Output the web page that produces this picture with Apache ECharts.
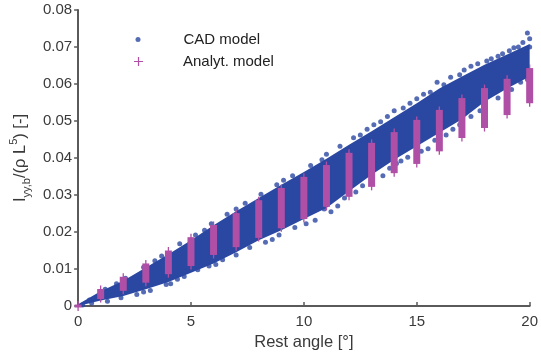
<!DOCTYPE html>
<html>
<head>
<meta charset="UTF-8">
<script src="https://cdn.jsdelivr.net/npm/echarts@6/dist/echarts.min.js"></script>
<style>
html,body{margin:0;padding:0;background:#fff;}
#main{width:541px;height:357px;}
</style>
</head>
<body>
<div id="main"></div>
<script>
// rest angles [deg]
var angles = [0,1,2,3,4,5,6,7,8,9,10,11,12,13,14,15,16,17,18,19,20];

// CAD model: dense cloud, read as upper / lower edge of the band
var bandUpper = [0.0005,0.0040,0.0068,0.0104,0.0140,0.0178,0.0218,0.0256,0.0292,0.0328,0.0362,
                 0.0398,0.0436,0.0472,0.0510,0.0548,0.0588,0.0620,0.0652,0.0680,0.0708];
var bandLower = [0.0000,0.0015,0.0027,0.0045,0.0065,0.0090,0.0115,0.0145,0.0178,0.0205,0.0235,
                 0.0265,0.0310,0.0355,0.0395,0.0432,0.0468,0.0505,0.0552,0.0588,0.0620];
// loose dots along the edges of the cloud
var cadDots = [
  [0.2,0.0003],[0.6,0.0008],[1.3,0.0013],[1.9,0.0022],[2.6,0.0031],[3.2,0.0042],[3.9,0.0058],
  [4.4,0.0072],[4.7,0.0080],[5.3,0.0098],[5.8,0.0108],[6.4,0.0125],[7.0,0.0138],[7.6,0.0158],
  [8.3,0.0172],[8.9,0.0192],[9.6,0.0212],[10.1,0.0222],[10.9,0.0262],[11.2,0.0255],[11.8,0.0292],
  [12.3,0.0308],[13.0,0.0345],[13.5,0.0352],[14.1,0.0385],[14.6,0.0402],[15.2,0.0418],[15.8,0.0448],
  [16.3,0.0462],[16.9,0.0490],[17.4,0.0512],[18.0,0.0538],[18.6,0.0562],[19.2,0.0585],[19.6,0.0605],
  [2.9,0.0038],[4.1,0.0060],[6.1,0.0112],[8.6,0.0180],[10.5,0.0232],[11.5,0.0270],[12.6,0.0325],
  [13.8,0.0372],[15.5,0.0425],[17.8,0.0528],[19.9,0.0612],[16.6,0.0478],[14.3,0.0392],
  [0.5,0.0016],[1.2,0.0045],[2.1,0.0075],[2.9,0.0105],[3.7,0.0135],[4.5,0.0168],[5.2,0.0192],
  [5.9,0.0222],[6.6,0.0248],[7.4,0.0278],[8.1,0.0302],[8.8,0.0328],[9.5,0.0352],[10.3,0.0380],
  [11.0,0.0410],[11.6,0.0432],[12.2,0.0455],[12.8,0.0478],[13.4,0.0498],[14.0,0.0528],[14.7,0.0548],
  [15.3,0.0572],[15.9,0.0605],[16.5,0.0618],[17.1,0.0638],[17.7,0.0655],[18.3,0.0668],[18.8,0.0682],
  [19.3,0.0698],[19.7,0.0712],[19.9,0.0738],[20.0,0.0722],
  [1.7,0.0060],[3.4,0.0122],[5.6,0.0205],[7.0,0.0262],[9.1,0.0340],[10.8,0.0395],[12.5,0.0462],
  [13.1,0.0490],[14.4,0.0535],[15.6,0.0578],[16.2,0.0598],[16.9,0.0625],[17.4,0.0648],[18.1,0.0662],
  [18.6,0.0675],[19.1,0.0690],[19.5,0.0700],[20.0,0.0700],[15.0,0.0560],[13.7,0.0512]
];

// Analyt. model: range of the + markers at each angle
var analytLo = [0.0000,0.0019,0.0041,0.0063,0.0086,0.0108,0.0138,0.0159,0.0184,0.0210,0.0235,
                0.0268,0.0295,0.0322,0.0359,0.0384,0.0418,0.0454,0.0481,0.0516,0.0548];
var analytHi = [0.0004,0.0046,0.0079,0.0115,0.0150,0.0186,0.0219,0.0251,0.0286,0.0319,0.0349,
                0.0381,0.0414,0.0441,0.0470,0.0503,0.0530,0.0562,0.0589,0.0614,0.0643];

var blue = '#2a47a2';
var magenta = '#b04fa6';
var axisCol = '#5a5a5a';
var txtCol = '#3a3a3a';

var chart = echarts.init(document.getElementById('main'));

var barData = angles.map(function (a, i) { return [a, analytLo[i], analytHi[i]]; });

chart.setOption({
  animation: false,
  grid: { left: 74, right: 8, top: 10, bottom: 51 },
  legend: [
    {
      left: 135.5, top: 32, padding: 0, itemWidth: 5, itemHeight: 5,
      textStyle: { fontFamily: 'Liberation Sans, Arial', fontSize: 15, color: '#222', padding: [0, 0, 0, 38] },
      data: [{ name: 'CAD model', icon: 'circle' }]
    },
    {
      left: 131.5, top: 54, padding: 0, itemWidth: 9, itemHeight: 9,
      textStyle: { fontFamily: 'Liberation Sans, Arial', fontSize: 15, color: '#222', padding: [0, 0, 0, 35] },
      data: [{ name: 'Analyt. model', icon: 'path://M5,0L5,10M0,5L10,5',
               itemStyle: { color: 'none', borderColor: magenta, borderWidth: 1.2 } }]
    }
  ],
  xAxis: {
    type: 'value', min: 0, max: 20, interval: 5,
    name: 'Rest angle [°]', nameLocation: 'middle', nameGap: 27,
    nameTextStyle: { fontFamily: 'Liberation Sans, Arial', fontSize: 16.5, color: txtCol },
    axisLine: { lineStyle: { color: axisCol, width: 2 } },
    axisTick: { inside: true, length: 4, lineStyle: { color: axisCol, width: 1.5 } },
    axisLabel: { fontFamily: 'Liberation Sans, Arial', fontSize: 15, color: txtCol, margin: 8 },
    splitLine: { show: false }
  },
  yAxis: {
    type: 'value', min: 0, max: 0.08, interval: 0.01,
    name: '{m|I}{s|yy,b}{m|/(ρ L}{p|5}{m|) [-]}', nameLocation: 'middle', nameGap: 42, nameRotate: 90,
    nameTextStyle: {
      fontFamily: 'Liberation Sans, Arial', color: txtCol,
      rich: {
        m: { fontSize: 16.5, lineHeight: 24, color: txtCol, fontFamily: 'Liberation Sans, Arial' },
        s: { fontSize: 11, lineHeight: 24, verticalAlign: 'bottom', color: txtCol, fontFamily: 'Liberation Sans, Arial' },
        p: { fontSize: 11, lineHeight: 24, verticalAlign: 'top', color: txtCol, fontFamily: 'Liberation Sans, Arial' }
      }
    },
    axisLine: { show: true, lineStyle: { color: axisCol, width: 2 } },
    axisTick: { show: true, length: 4, lineStyle: { color: axisCol, width: 1.5 } },
    axisLabel: {
      fontFamily: 'Liberation Sans, Arial', fontSize: 15, color: txtCol, margin: 6,
      formatter: function (v) { return v === 0 ? '0' : v.toFixed(2); }
    },
    splitLine: { show: false }
  },
  series: [
    {
      name: 'CAD model', type: 'scatter', data: cadDots,
      symbol: 'circle', symbolSize: 5, itemStyle: { color: blue }, z: 2
    },
    {
      name: 'CAD model', type: 'custom', data: [[0, 0]], z: 1,
      renderItem: function (params, api) {
        var pts = [];
        for (var i = 0; i < angles.length; i++) pts.push(api.coord([angles[i], bandUpper[i]]));
        for (var j = angles.length - 1; j >= 0; j--) pts.push(api.coord([angles[j], bandLower[j]]));
        return { type: 'polygon', shape: { points: pts }, style: { fill: blue } };
      }
    },
    {
      name: 'Analyt. model', type: 'custom', data: barData, z: 3,
      itemStyle: { color: magenta },
      encode: { x: 0, y: [1, 2] },
      renderItem: function (params, api) {
        var top = api.coord([api.value(0), api.value(2)]);
        var bot = api.coord([api.value(0), api.value(1)]);
        var h = Math.max(bot[1] - top[1], 3);
        var w = 7;
        return {
          type: 'group',
          children: [
            { type: 'line', shape: { x1: top[0], y1: top[1] - 3.5, x2: top[0], y2: top[1] + h + 3.5 },
              style: { stroke: magenta, lineWidth: 1.3 } },
            { type: 'rect', shape: { x: top[0] - w / 2, y: top[1], width: w, height: h },
              style: { fill: magenta } }
          ]
        };
      }
    }
  ]
});
</script>
</body>
</html>
